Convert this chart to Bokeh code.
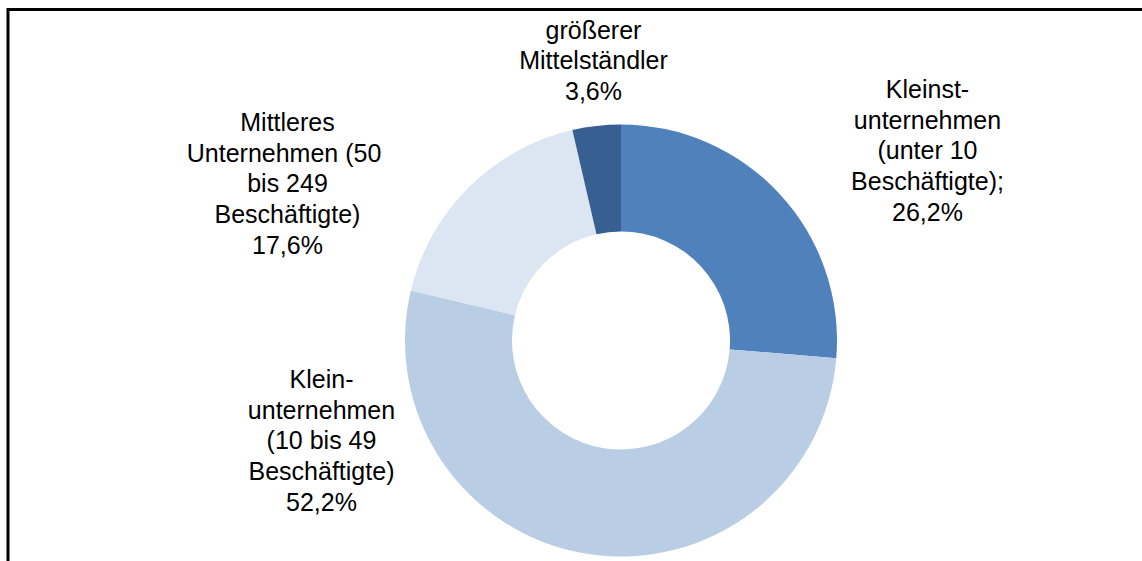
import math
from bokeh.plotting import figure
from bokeh.models import Range1d, BoxAnnotation, ColumnDataSource
from bokeh.core.properties import value
from bokeh.embed import file_html
from bokeh.resources import INLINE

# ---- data ----
categories = [
    "Kleinst-\nunternehmen\n(unter 10\nBeschäftigte);",
    "Klein-\nunternehmen\n(10 bis 49\nBeschäftigte)",
    "Mittleres\nUnternehmen  (50\nbis 249\nBeschäftigte)",
    "größerer\nMittelständler",
]
shares = [26.2, 52.2, 17.6, 3.6]
colors = ["#4F81BD", "#B9CDE5", "#DCE6F2", "#385F92"]

# ---- layout (page pixel positions of label centres) ----
W, H = 1142, 561
label_px = [(927, 150), (321, 440), (287, 183), (593, 60)]
center_px = (620.5, 340)
outer_r, inner_r = 216, 109

def to_data(px, py):
    return px, H - py

total = sum(shares)
starts, ends = [], []
acc = 0.0
for s in shares:
    starts.append(math.pi / 2 - acc / total * 2 * math.pi)
    acc += s
    ends.append(math.pi / 2 - acc / total * 2 * math.pi)

cx, cy = to_data(*center_px)
src = ColumnDataSource(dict(start=starts, end=ends, color=colors))

p = figure(width=W, height=H, output_backend="svg", toolbar_location=None,
           x_range=Range1d(0, W), y_range=Range1d(0, H), min_border=0,
           outline_line_color=None, background_fill_color="white")
p.axis.visible = False
p.grid.visible = False

p.annular_wedge(x=cx, y=cy, inner_radius=inner_r, outer_radius=outer_r,
                inner_radius_units="screen", outer_radius_units="screen",
                start_angle="start", end_angle="end", direction="clock",
                fill_color="color", line_color=None, source=src)

labels = [c + "\n" + f"{s:.1f}".replace(".", ",") + "%" for c, s in zip(categories, shares)]
lx = [to_data(*xy)[0] for xy in label_px]
ly = [to_data(*xy)[1] for xy in label_px]
p.text(x=lx, y=ly, text=labels, text_align="center", text_baseline="middle",
       text_font=value("Liberation Sans"), text_font_size="25px",
       text_line_height=1.09, text_color="#000000")

# chart frame: only the top and left edges fall inside the picture
p.add_layout(BoxAnnotation(left=7.5, right=W + 40, bottom=-40, top=H - 9,
                           fill_alpha=0, line_color="black", line_width=3,
                           line_alpha=1, line_join="miter"))

open("out.html", "w").write(file_html(p, INLINE))
